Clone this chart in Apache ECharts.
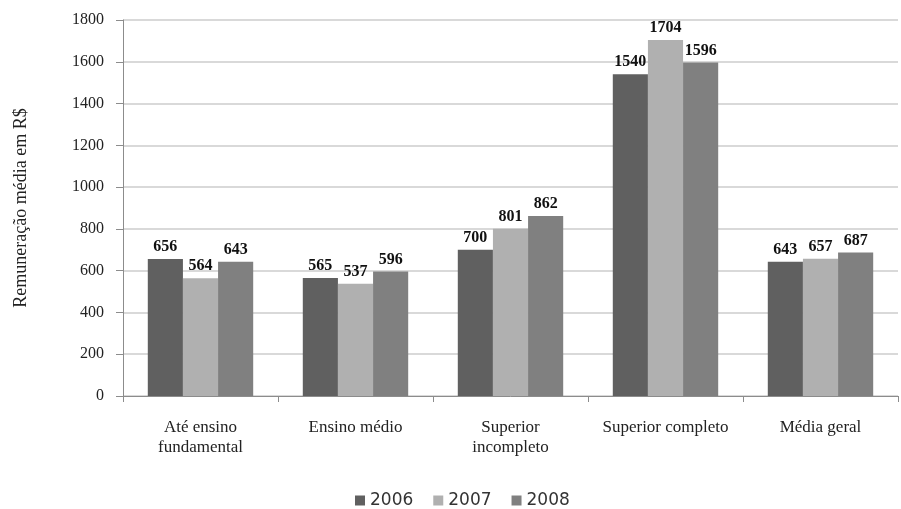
<!DOCTYPE html>
<html>
<head>
<meta charset="utf-8">
<script src="https://cdn.jsdelivr.net/npm/echarts@6/dist/echarts.min.js"></script>
<style>
html,body{margin:0;padding:0;background:#fff;}
#chart{width:901px;height:509px;}
</style>
</head>
<body>
<div id="chart"></div>
<script>
// Escolaridade (categorias) e remuneração média por ano
const categories = ['Até ensino\nfundamental', 'Ensino médio', 'Superior\nincompleto', 'Superior completo', 'Média geral'];
const years = ['2006', '2007', '2008'];
const values2006 = [656, 565, 700, 1540, 643];
const values2007 = [564, 537, 801, 1704, 657];
const values2008 = [643, 596, 862, 1596, 687];
const yTicks = [0, 200, 400, 600, 800, 1000, 1200, 1400, 1600, 1800];

const colors = ['#606060', '#b0b0b0', '#808080'];
const serif = '"Liberation Serif", "DejaVu Serif", serif';
const sans = '"DejaVu Sans", sans-serif';

const chart = echarts.init(document.getElementById('chart'));

function makeSeries(name, data, color) {
  return {
    name: name,
    type: 'bar',
    data: data,
    barGap: '0%',
    barCategoryGap: '32%',
    itemStyle: { color: color },
    label: {
      show: true,
      position: 'top',
      distance: 4,
      fontFamily: serif,
      fontWeight: 'bold',
      fontSize: 16,
      color: '#111'
    }
  };
}

chart.setOption({
  animation: false,
  color: colors,
  grid: { left: 123, right: 3, top: 20, bottom: 113 },
  legend: {
    top: 487,
    left: 350,
    itemWidth: 10,
    itemHeight: 10,
    itemGap: 20,
    icon: 'rect',
    textStyle: { fontFamily: sans, fontSize: 17, color: '#333' },
    data: years
  },
  xAxis: {
    type: 'category',
    data: categories,
    axisLine: { lineStyle: { color: '#8c8c8c' } },
    axisTick: { show: true, length: 6, lineStyle: { color: '#8c8c8c' } },
    axisLabel: {
      fontFamily: serif,
      fontSize: 17,
      color: '#222',
      margin: 22,
      lineHeight: 20,
      interval: 0
    }
  },
  yAxis: {
    type: 'value',
    min: yTicks[0],
    max: yTicks[yTicks.length - 1],
    interval: 200,
    name: 'Remuneração média em R$',
    nameLocation: 'middle',
    nameGap: 93,
    nameRotate: 90,
    nameTextStyle: { fontFamily: serif, fontSize: 18, color: '#222' },
    axisLine: { show: true, lineStyle: { color: '#8c8c8c' } },
    axisTick: { show: true, length: 7, lineStyle: { color: '#8c8c8c' } },
    axisLabel: {
      fontFamily: serif,
      fontSize: 16,
      color: '#222',
      margin: 19,
      formatter: function (v) { return String(v); }
    },
    splitLine: { lineStyle: { color: '#d9d9d9', width: 2 } }
  },
  series: [
    makeSeries(years[0], values2006, colors[0]),
    makeSeries(years[1], values2007, colors[1]),
    makeSeries(years[2], values2008, colors[2])
  ]
});
</script>
</body>
</html>
